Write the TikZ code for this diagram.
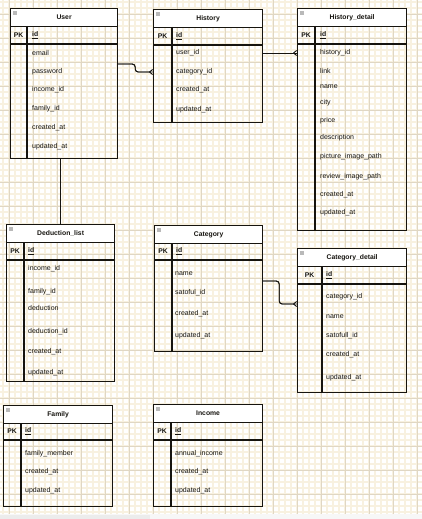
\documentclass[tikz,border=0pt]{standalone}
\usepackage{fontspec}
\setmainfont{Liberation Sans}
\usetikzlibrary{arrows.meta}
\definecolor{ink}{HTML}{16140F}
\definecolor{gridminor}{HTML}{F8F1E0}
\definecolor{gridmajor}{HTML}{E0D7C4}
\begin{document}
\begin{tikzpicture}[x=1pt, y=-1pt,
  tbl/.style={draw=ink, line width=1.2pt, anchor=north west, inner sep=0pt},
  hdr/.style={draw=ink, line width=1.2pt, fill=white, anchor=north west, inner sep=0pt,
              minimum height=18pt, font=\fontsize{6.8}{8}\selectfont\bfseries, text=ink},
  sep/.style={draw=ink, line width=1.2pt},
  fld/.style={anchor=west, inner sep=0pt, font=\fontsize{7}{8}\selectfont, text=ink},
  pk/.style ={inner sep=0pt, font=\fontsize{6.8}{8}\selectfont\bfseries, text=ink},
  rel/.style={draw=ink, line width=0.9pt, rounded corners=3pt},
  many/.style={postaction={draw=ink, -{Straight Barb[reversed, length=3pt, width=5pt]}}},
  icon/.style={fill=gray!55},
]
  \useasboundingbox (0,0) rectangle (422,519);
  % background grid
  \fill[white] (0,0) rectangle (422,519);
  \foreach \x in {3,9,...,421} \draw[gridminor, line width=1.2pt] (\x,0) -- (\x,514);
  \foreach \y in {2,8,...,513} \draw[gridminor, line width=1.2pt] (0,\y) -- (422,\y);
  \foreach \x in {9,33,...,421} \draw[gridmajor, line width=0.6pt] (\x,0) -- (\x,514);
  \foreach \y in {14,38,...,513} \draw[gridmajor, line width=0.6pt] (0,\y) -- (422,\y);
  \fill[gray!6] (0,514) rectangle (422,519);
  \fill[gray!15] (0,514.5) rectangle (150,519);

  % User
  \node[tbl, minimum width=107pt, minimum height=150pt] (user) at (10,8) {};
  \node[hdr, minimum width=107pt] (user-t) at (user.north west) {User};
  \draw[sep] (10,44) -- (117,44);
  \draw[sep] (27,26) -- (27,158);
  \node[pk] at (18.5,35) {PK};
  \node[fld, font=\fontsize{6.8}{8}\selectfont\bfseries] at (32,35) {\underline{id}};
  \foreach \y/\f in {53/email, 72/password, 90/income\_id, 109/family\_id, 128/created\_at, 147/updated\_at}
    \node[fld] at (32,\y) {\f};

  % History
  \node[tbl, minimum width=109pt, minimum height=113pt] (hist) at (153,9) {};
  \node[hdr, minimum width=109pt] (hist-t) at (hist.north west) {History};
  \draw[sep] (153,45) -- (262,45);
  \draw[sep] (172,27) -- (172,122);
  \node[pk] at (162.5,36) {PK};
  \node[fld, font=\fontsize{6.8}{8}\selectfont\bfseries] at (176,36) {\underline{id}};
  \foreach \y/\f in {53/user\_id, 72/category\_id, 90/created\_at, 110/updated\_at}
    \node[fld] at (176,\y) {\f};

  % History_detail
  \node[tbl, minimum width=109pt, minimum height=222pt] (hdet) at (297,8) {};
  \node[hdr, minimum width=109pt] (hdet-t) at (hdet.north west) {History\_detail};
  \draw[sep] (297,44) -- (406,44);
  \draw[sep] (315,26) -- (315,230);
  \node[pk] at (306,35) {PK};
  \node[fld, font=\fontsize{6.8}{8}\selectfont\bfseries] at (320,35) {\underline{id}};
  \foreach \y/\f in {53/history\_id, 71/link, 87/name, 103/city, 121/price, 138/description,
                     157/picture\_image\_path, 177/review\_image\_path, 195/created\_at, 213/updated\_at}
    \node[fld] at (320,\y) {\f};

  % Deduction_list
  \node[tbl, minimum width=108pt, minimum height=157pt] (ded) at (6,224) {};
  \node[hdr, minimum width=108pt] (ded-t) at (ded.north west) {Deduction\_list};
  \draw[sep] (6,260) -- (114,260);
  \draw[sep] (24,242) -- (24,381);
  \node[pk] at (15,251) {PK};
  \node[fld, font=\fontsize{6.8}{8}\selectfont\bfseries] at (28,251) {\underline{id}};
  \foreach \y/\f in {269/income\_id, 292/family\_id, 308/deduction, 332/deduction\_id, 352/created\_at, 373/updated\_at}
    \node[fld] at (28,\y) {\f};

  % Category
  \node[tbl, minimum width=108pt, minimum height=126pt] (cat) at (154,225) {};
  \node[hdr, minimum width=108pt] (cat-t) at (cat.north west) {Category};
  \draw[sep] (154,260) -- (262,260);
  \draw[sep] (172,243) -- (172,351);
  \node[pk] at (163,251.5) {PK};
  \node[fld, font=\fontsize{6.8}{8}\selectfont\bfseries] at (176,251.5) {\underline{id}};
  \foreach \y/\f in {274/name, 293/satoful\_id, 314/created\_at, 336/updated\_at}
    \node[fld] at (175,\y) {\f};

  % Category_detail
  \node[tbl, minimum width=109pt, minimum height=144pt] (cdet) at (297,248) {};
  \node[hdr, minimum width=109pt] (cdet-t) at (cdet.north west) {Category\_detail};
  \draw[sep] (297,284) -- (406,284);
  \draw[sep] (322,266) -- (322,392);
  \node[pk] at (309.5,275) {PK};
  \node[fld, font=\fontsize{6.8}{8}\selectfont\bfseries] at (326,275) {\underline{id}};
  \foreach \y/\f in {297/category\_id, 317/name, 336/satofull\_id, 355/created\_at, 378/updated\_at}
    \node[fld] at (326,\y) {\f};

  % Family
  \node[tbl, minimum width=109pt, minimum height=101pt] (fam) at (3,405) {};
  \node[hdr, minimum width=109pt] (fam-t) at (fam.north west) {Family};
  \draw[sep] (3,440) -- (112,440);
  \draw[sep] (21,423) -- (21,506);
  \node[pk] at (12,431.5) {PK};
  \node[fld, font=\fontsize{6.8}{8}\selectfont\bfseries] at (25,431.5) {\underline{id}};
  \foreach \y/\f in {454/family\_member, 472/created\_at, 491/updated\_at}
    \node[fld] at (25,\y) {\f};

  % Income
  \node[tbl, minimum width=109pt, minimum height=102pt] (inc) at (153,404) {};
  \node[hdr, minimum width=109pt] (inc-t) at (inc.north west) {Income};
  \draw[sep] (153,440) -- (262,440);
  \draw[sep] (171,422) -- (171,506);
  \node[pk] at (162,431) {PK};
  \node[fld, font=\fontsize{6.8}{8}\selectfont\bfseries] at (175,431) {\underline{id}};
  \foreach \y/\f in {454/annual\_income, 472/created\_at, 491/updated\_at}
    \node[fld] at (175,\y) {\f};

  % collapse icons
  \foreach \t in {user,hist,hdet,ded,cat,cdet,fam,inc}
    \fill[icon] ([shift={(2.5,3)}]\t.north west) rectangle ++(4,4);

  % relations
  \draw[rel, many] (user.east |- 0,64) -- ++(17,0) |- (hist.west |- 0,72);
  \draw[rel, many] (hist.east |- 0,53) -- (hdet.west |- 0,53);
  \draw[rel] (ded.north) -- (ded.north |- user.south);
  \draw[rel, many] (cat.east |- 0,281) -- ++(16,0) |- (cdet.west |- 0,304);
\end{tikzpicture}
\end{document}
